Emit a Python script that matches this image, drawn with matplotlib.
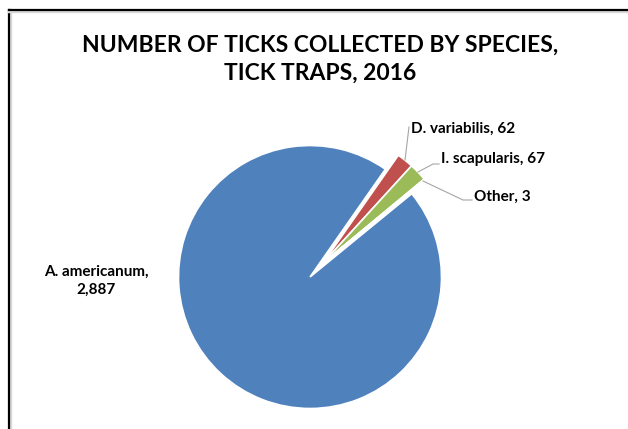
import numpy as np
import matplotlib.pyplot as plt
from matplotlib.lines import Line2D

species = ["A. americanum", "D. variabilis", "I. scapularis", "Other"]
counts = [2887, 62, 67, 3]
colors = ["#4F81BD", "#C0504D", "#9BBB59", "#8064A2"]

W, H = 628, 429
CX, CY, R = 310, 277, 131.5  # pie centre and radius in pixels


def px(x, y):
    """Pixel position (from top-left) to pie data units."""
    return (x - CX) / R, (CY - y) / R


plt.rcParams["font.family"] = ["Lato", "DejaVu Sans"]

fig = plt.figure(figsize=(W / 100, H / 100), dpi=100)
ax = fig.add_axes([0, 0, 1, 1])

wedges, _ = ax.pie(
    counts,
    colors=colors,
    startangle=39.3,
    counterclock=False,
    radius=1,
    wedgeprops={"edgecolor": "white", "linewidth": 1.2},
)

# the three small slices are pulled out together, like in Excel
total = sum(counts)
small_start = 39.3 - 360 * counts[0] / total
small_mid = np.deg2rad(small_start - 180 * sum(counts[1:]) / total)
offset = 0.145
for w in wedges[1:]:
    w.set_center((offset * np.cos(small_mid), offset * np.sin(small_mid)))

ax.set_xlim(px(0, 0)[0], px(W, 0)[0])
ax.set_ylim(px(0, H)[1], px(0, 0)[1])
ax.set_aspect("auto")
ax.axis("off")

label_kw = dict(fontsize=11, fontweight="bold", color="#000000", va="center")
leader_kw = dict(color="#A6A6A6", linewidth=0.8)

ax.text(*px(96, 281), f"{species[0]},\n{counts[0]:,}", ha="center",
        linespacing=1.35, **label_kw)

ax.plot(*zip(px(405, 160), px(409, 127)), **leader_kw)
ax.text(*px(411, 129), f"{species[1]}, {counts[1]}", ha="left", **label_kw)

ax.plot(*zip(px(418, 172), px(433, 164), px(439, 164)), **leader_kw)
ax.text(*px(441, 159), f"{species[2]}, {counts[2]}", ha="left", **label_kw)

ax.plot(*zip(px(423, 181), px(463, 200), px(472, 200)), **leader_kw)
ax.text(*px(474, 197), f"{species[3]}, {counts[3]}", ha="left", **label_kw)

fig.text(320 / W, 1 - 59 / H, "NUMBER OF TICKS COLLECTED BY SPECIES,\nTICK TRAPS, 2016",
         ha="center", va="center", fontsize=16.5, fontweight="bold", linespacing=1.4)

# chart frame (only top and left edges are visible in the crop)
fig.add_artist(Line2D([10 / W, 10 / W], [0, 1 - 10 / H], color="#D9D9D9", linewidth=2.5))
fig.add_artist(Line2D([9 / W, 9 / W], [0, 1 - 10 / H], color="black", linewidth=1.6))
fig.add_artist(Line2D([9 / W, 1], [1 - 11 / H, 1 - 11 / H], color="#D9D9D9", linewidth=2.5))
fig.add_artist(Line2D([9 / W, 1], [1 - 10 / H, 1 - 10 / H], color="black", linewidth=1.6))

fig.savefig("out.png", dpi=100)
